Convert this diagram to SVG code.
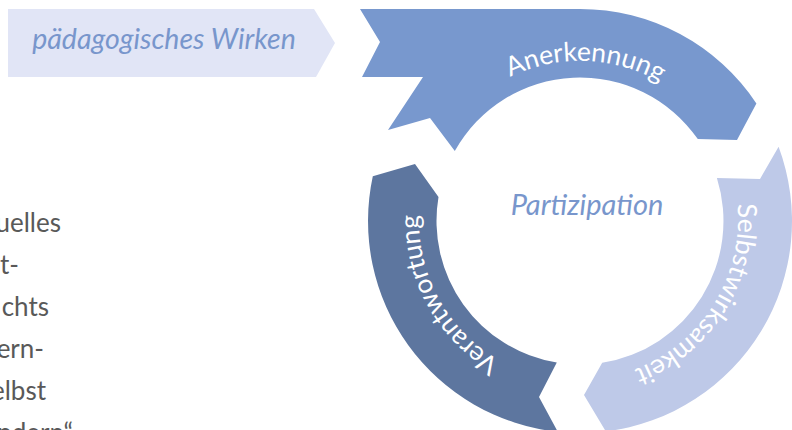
<svg xmlns="http://www.w3.org/2000/svg" width="792" height="430" viewBox="0 0 792 430">
<style>
.lbl{font-family:Lato,"Open Sans","Liberation Sans",sans-serif;font-size:26.5px;fill:#ffffff}
.it{font-family:Lato,"Open Sans","Liberation Sans",sans-serif;font-style:italic;fill:#7896cc}
.body{font-family:Lato,"Open Sans","Liberation Sans",sans-serif;font-size:26px;fill:#595959;text-anchor:end}
</style>
<defs>
<path id="pA" d="M419.1,215.4 A161,161 0 0 1 740.9,226.6"/>
<path id="pS" d="M665.3,84.5 A161,161 0 0 1 494.7,357.5"/>
<path id="pV" d="M658.1,361.8 A161,161 0 0 1 501.9,80.2"/>
</defs>
<rect width="792" height="430" fill="#ffffff"/>
<g id="left-text">
<text class="body" x="61" y="232">uelles</text>
<text class="body" x="19" y="273.5">t-</text>
<text class="body" x="49" y="315.5">chts</text>
<text class="body" x="44" y="357.5">ern-</text>
<text class="body" x="46" y="399.5">elbst</text>
<text class="body" x="73" y="441.5">ndern“</text>
</g>
<g id="paedagogisches-wirken">
<polygon points="8,9 314,9 335,43 316,77 8,77" fill="#e1e5f6"/>
<text class="it" x="164" y="48.5" font-size="28.5" text-anchor="middle">pädagogisches Wirken</text>
</g>
<g id="anerkennung">
<path d="M360,9 L580,9 A212,212 0 0 1 756.4,103.4 L737,140 L697.8,139.1 A143.5,143.5 0 0 0 454.8,150.9 L430,118 L388,130 L423,77 L362,77 L380,42 Z" fill="#7898ce"/>
<text class="lbl"><textPath href="#pA" startOffset="50%" text-anchor="middle">Anerkennung</textPath></text>
</g>
<g id="selbstwirksamkeit">
<path d="M778.6,146.8 A212,212 0 0 1 605.8,431.4 L584,395 L602.2,362.8 A143.5,143.5 0 0 0 716.9,178.1 L760,179 Z" fill="#bec9e8"/>
<text class="lbl"><textPath href="#pS" startOffset="50%" text-anchor="middle">Selbstwirksamkeit</textPath></text>
</g>
<g id="verantwortung">
<path d="M557.8,431.8 A212,212 0 0 1 372.8,176.2 L415,164 L438.5,197.1 A143.5,143.5 0 0 0 556.8,362.6 L539,397 Z" fill="#5d769f"/>
<text class="lbl"><textPath href="#pV" startOffset="50%" text-anchor="middle">Verantwortung</textPath></text>
</g>
<g id="partizipation">
<text class="it" x="587" y="215" font-size="29" text-anchor="middle">Partizipation</text>
</g>
<g id="connectors"/>
</svg>
